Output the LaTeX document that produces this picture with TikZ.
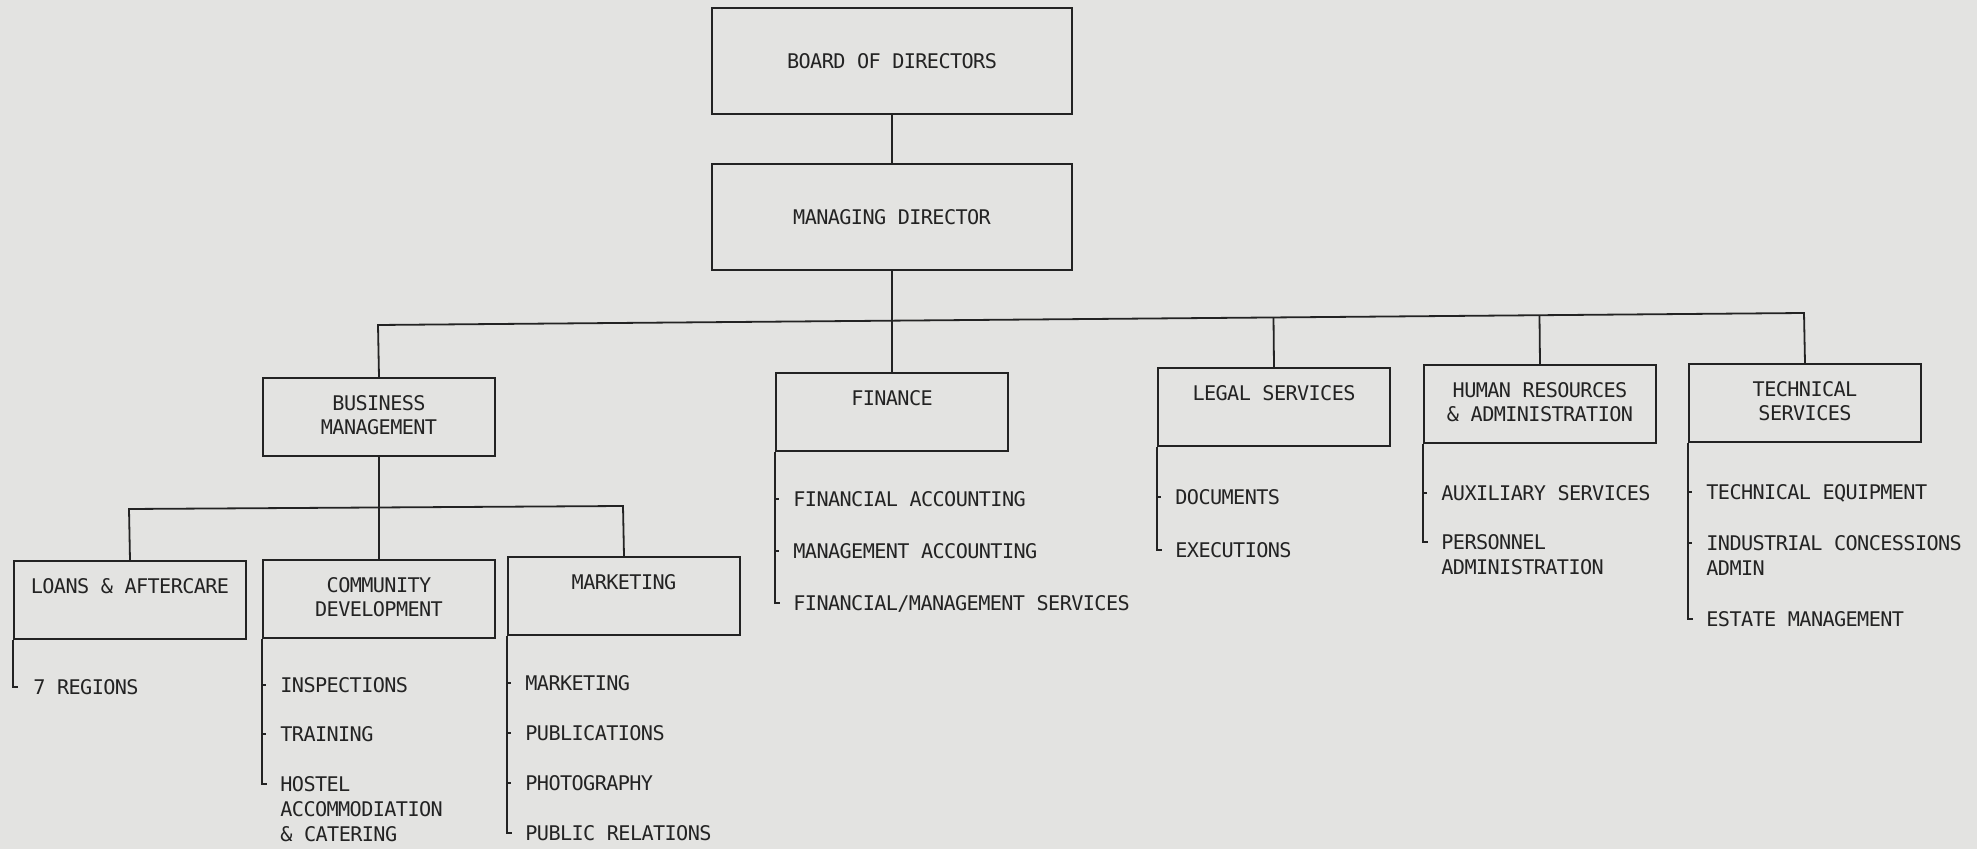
\documentclass[tikz,border=0pt]{standalone}
\usepackage{fontspec}
\usetikzlibrary{calc}
\newfontfamily\chartfont[LetterSpace=-3]{DejaVu Sans Mono}
\definecolor{paper}{RGB}{227,227,225}
\definecolor{ink}{RGB}{35,35,35}
% centred two-line title, baseline on the first line
\newcommand\titlerows[2]{\vtop{\halign{\hfil##\hfil\cr#1\cr#2\cr}}}
% left-aligned stacked lines, baseline on the first line
\newcommand\itemrows[1]{\vtop{\halign{##\hfil\cr#1\cr}}}
\begin{document}
\begin{tikzpicture}[x=0.5pt,y=-0.5pt,
  every node/.style={text=ink},
  txt/.style={font=\chartfont\fontsize{10.1pt}{12pt}\selectfont},
  topbox/.style={txt,draw=ink,line width=1pt,anchor=north west,inner sep=0pt,
    minimum width=180pt,minimum height=53pt},
  unitbox/.style={txt,draw=ink,line width=1pt,anchor=north west,inner sep=0pt,
    minimum width=116pt,text height=16.2pt,text depth=22.8pt},
  item/.style={font=\chartfont\fontsize{10.1pt}{12.6pt}\selectfont,anchor=west,
    inner sep=0pt,text height=7.4pt,text depth=0pt},
  link/.style={draw=ink,line width=0.9pt}]
\fill[paper] (0,0) rectangle (1977,849);
\useasboundingbox (0,0) rectangle (1977,849);

% top of the organisation
\node[topbox] (board) at (711,7) {BOARD OF DIRECTORS};
\node[topbox] (md) at (711,163) {MANAGING DIRECTOR};

% divisions
\node[unitbox] (bm) at (262,377) {\titlerows{BUSINESS}{MANAGEMENT}};
\node[unitbox] (fin) at (775,372) {FINANCE};
\node[unitbox] (legal) at (1157,367) {LEGAL SERVICES};
\node[unitbox] (hr) at (1423,364) {\titlerows{HUMAN RESOURCES}{\& ADMINISTRATION}};
\node[unitbox] (tech) at (1688,363) {\titlerows{TECHNICAL}{SERVICES}};

% business management departments
\node[unitbox] (loans) at (13,560) {LOANS \& AFTERCARE};
\node[unitbox] (comm) at (262,559) {\titlerows{COMMUNITY}{DEVELOPMENT}};
\node[unitbox] (mkt) at (507,556) {MARKETING};

% connectors
\coordinate (busL) at (378,325);
\coordinate (busR) at (1804,313);
\coordinate (subL) at (129,509);
\coordinate (subR) at (623,506);
\draw[link] (board.south) -- (md.north);
\draw[link] (md.south) -- (fin.north);
\draw[link] (bm.north) -- (busL) -- (busR) -- (tech.north);
\draw[link] (legal.north) -- ($(busL)!(legal.north)!(busR)$);
\draw[link] (hr.north) -- ($(busL)!(hr.north)!(busR)$);
\draw[link] (bm.south) -- (comm.north);
\draw[link] (loans.north) -- (subL) -- (subR) -- (mkt.north);

% sections under each unit
\node[item] (lo1) at (33,687) {7 REGIONS};

\node[item] (cd1) at (280,685) {INSPECTIONS};
\node[item] (cd2) at (280,734) {TRAINING};
\node[item] (cd3) at (280,784) {\itemrows{HOSTEL\cr ACCOMMODIATION\cr \& CATERING}};

\node[item] (mk1) at (525,683) {MARKETING};
\node[item] (mk2) at (525,733) {PUBLICATIONS};
\node[item] (mk3) at (525,783) {PHOTOGRAPHY};
\node[item] (mk4) at (525,833) {PUBLIC RELATIONS};

\node[item] (fi1) at (793,499) {FINANCIAL ACCOUNTING};
\node[item] (fi2) at (793,551) {MANAGEMENT ACCOUNTING};
\node[item] (fi3) at (793,603) {FINANCIAL/MANAGEMENT SERVICES};

\node[item] (le1) at (1175,497) {DOCUMENTS};
\node[item] (le2) at (1175,550) {EXECUTIONS};

\node[item] (hr1) at (1441,493) {AUXILIARY SERVICES};
\node[item] (hr2) at (1441,542) {\itemrows{PERSONNEL\cr ADMINISTRATION}};

\node[item] (te1) at (1706,492) {TECHNICAL EQUIPMENT};
\node[item] (te2) at (1706,543) {\itemrows{INDUSTRIAL CONCESSIONS\cr ADMIN}};
\node[item] (te3) at (1706,619) {ESTATE MANAGEMENT};

% section rails: box edge carried down, hooked at the last entry
\draw[link] (loans.south west) |- ([xshift=-7.5pt]lo1.west);

\draw[link] (comm.south west) |- ([xshift=-6.5pt]cd3.west);
\foreach \n in {cd1,cd2} \draw[link] (\n.west -| comm.west) -- ([xshift=-7pt]\n.west);

\draw[link] (mkt.south west) |- ([xshift=-6.5pt]mk4.west);
\foreach \n in {mk1,mk2,mk3} \draw[link] (\n.west -| mkt.west) -- ([xshift=-7pt]\n.west);

\draw[link] (fin.south west) |- ([xshift=-6.5pt]fi3.west);
\foreach \n in {fi1,fi2} \draw[link] (\n.west -| fin.west) -- ([xshift=-7pt]\n.west);

\draw[link] (legal.south west) |- ([xshift=-6.5pt]le2.west);
\draw[link] (le1.west -| legal.west) -- ([xshift=-7pt]le1.west);

\draw[link] (hr.south west) |- ([xshift=-6.5pt]hr2.west);
\draw[link] (hr1.west -| hr.west) -- ([xshift=-7pt]hr1.west);

\draw[link] (tech.south west) |- ([xshift=-6.5pt]te3.west);
\foreach \n in {te1,te2} \draw[link] (\n.west -| tech.west) -- ([xshift=-7pt]\n.west);
\end{tikzpicture}
\end{document}
